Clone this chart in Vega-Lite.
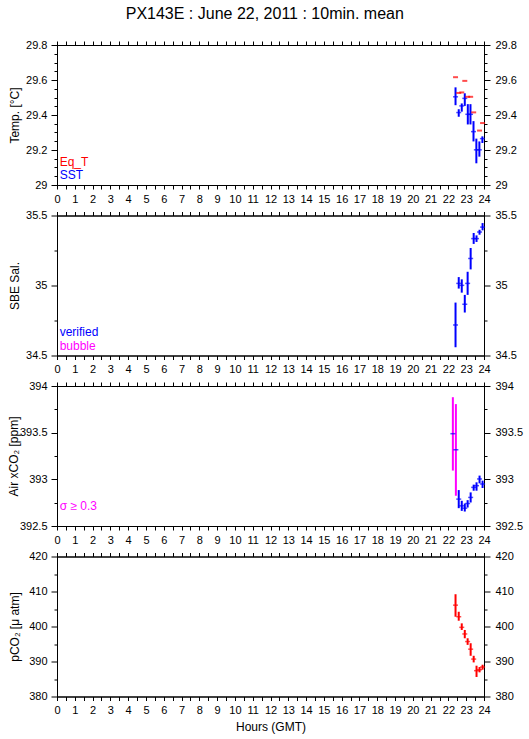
{
  "$schema": "https://vega.github.io/schema/vega-lite/v6.json",
  "padding": {"left": 6, "top": 5, "right": 5, "bottom": 5},
  "background": "white",
  "title": {"text": "PX143E : June 22, 2011 : 10min. mean", "fontSize": 16, "fontWeight": "normal", "font": "Liberation Sans", "color": "black", "offset": 17, "anchor": "middle"},
  "config": {
    "view": {"stroke": "black", "strokeWidth": 1},
    "axis": {"labelFont": "Liberation Sans", "titleFont": "Liberation Sans", "labelFontSize": 11, "titleFontSize": 12, "labelColor": "black", "titleColor": "black", "tickColor": "black", "domainColor": "black", "grid": false, "titleFontWeight": "normal", "labelFlush": false, "labelOverlap": false, "labelBound": false},
    "text": {"font": "Liberation Sans", "fontSize": 12}
  },
  "datasets": {
    "sst": [
      {"h": 22.4, "v": 29.504, "lo": 29.456, "hi": 29.558},
      {"h": 22.58, "v": 29.414, "lo": 29.39, "hi": 29.433},
      {"h": 22.75, "v": 29.452, "lo": 29.419, "hi": 29.466},
      {"h": 22.92, "v": 29.495, "lo": 29.452, "hi": 29.524},
      {"h": 23.09, "v": 29.404, "lo": 29.346, "hi": 29.462},
      {"h": 23.24, "v": 29.404, "lo": 29.346, "hi": 29.462},
      {"h": 23.41, "v": 29.305, "lo": 29.249, "hi": 29.365},
      {"h": 23.57, "v": 29.201, "lo": 29.124, "hi": 29.265},
      {"h": 23.74, "v": 29.201, "lo": 29.162, "hi": 29.249},
      {"h": 23.91, "v": 29.265, "lo": 29.24, "hi": 29.278}
    ],
    "eqt": [
      {"h": 22.4, "v": 29.616},
      {"h": 22.58, "v": 29.526},
      {"h": 22.75, "v": 29.529},
      {"h": 22.92, "v": 29.595},
      {"h": 23.08, "v": 29.504},
      {"h": 23.25, "v": 29.504},
      {"h": 23.42, "v": 29.415},
      {"h": 23.75, "v": 29.311},
      {"h": 23.92, "v": 29.354}
    ],
    "sal": [
      {"h": 22.4, "v": 34.718, "lo": 34.559, "hi": 34.878},
      {"h": 22.58, "v": 35.015, "lo": 34.978, "hi": 35.06},
      {"h": 22.75, "v": 35.001, "lo": 34.949, "hi": 35.044},
      {"h": 22.92, "v": 34.866, "lo": 34.807, "hi": 34.933},
      {"h": 23.08, "v": 35.015, "lo": 34.933, "hi": 35.098},
      {"h": 23.25, "v": 35.193, "lo": 35.115, "hi": 35.268},
      {"h": 23.42, "v": 35.335, "lo": 35.297, "hi": 35.375},
      {"h": 23.58, "v": 35.335, "lo": 35.311, "hi": 35.358},
      {"h": 23.75, "v": 35.382, "lo": 35.363, "hi": 35.398},
      {"h": 23.92, "v": 35.417, "lo": 35.394, "hi": 35.446}
    ],
    "air": [
      {"h": 22.25, "v": 393.489, "lo": 393.094, "hi": 393.88, "flag": "bubble"},
      {"h": 22.42, "v": 393.317, "lo": 392.824, "hi": 393.806, "flag": "bubble"},
      {"h": 22.58, "v": 392.788, "lo": 392.691, "hi": 392.885, "flag": "verified"},
      {"h": 22.75, "v": 392.716, "lo": 392.662, "hi": 392.77, "flag": "verified"},
      {"h": 22.92, "v": 392.691, "lo": 392.655, "hi": 392.741, "flag": "verified"},
      {"h": 23.08, "v": 392.741, "lo": 392.698, "hi": 392.777, "flag": "verified"},
      {"h": 23.25, "v": 392.806, "lo": 392.752, "hi": 392.86, "flag": "verified"},
      {"h": 23.42, "v": 392.914, "lo": 392.878, "hi": 392.943, "flag": "verified"},
      {"h": 23.58, "v": 392.932, "lo": 392.878, "hi": 392.968, "flag": "verified"},
      {"h": 23.75, "v": 393.004, "lo": 392.957, "hi": 393.04, "flag": "verified"},
      {"h": 23.92, "v": 392.95, "lo": 392.907, "hi": 392.986, "flag": "verified"}
    ],
    "pco2": [
      {"h": 22.4, "v": 406.1, "lo": 402.79, "hi": 409.22},
      {"h": 22.58, "v": 402.79, "lo": 401.65, "hi": 404.21},
      {"h": 22.75, "v": 399.76, "lo": 399.01, "hi": 400.9},
      {"h": 22.92, "v": 397.87, "lo": 396.64, "hi": 399.01},
      {"h": 23.08, "v": 395.7, "lo": 394.75, "hi": 396.64},
      {"h": 23.25, "v": 393.52, "lo": 391.63, "hi": 395.22},
      {"h": 23.42, "v": 390.69, "lo": 389.74, "hi": 391.63},
      {"h": 23.58, "v": 387.38, "lo": 385.58, "hi": 388.8},
      {"h": 23.75, "v": 387.66, "lo": 386.9, "hi": 388.42},
      {"h": 23.92, "v": 388.42, "lo": 387.66, "hi": 389.08}
    ]
  },
  "vconcat": [
    {
      "width": 427, "height": 140,
      "layer": [
        {
          "data": {"name": "sst"},
          "mark": {"type": "rule", "color": "#0000ff", "strokeWidth": 2},
          "encoding": {
            "x": {"field": "h", "type": "quantitative", "scale": {"domain": [0, 24], "nice": false},
              "axis": {"orient": "bottom", "values": [0,0.5,1,1.5,2,2.5,3,3.5,4,4.5,5,5.5,6,6.5,7,7.5,8,8.5,9,9.5,10,10.5,11,11.5,12,12.5,13,13.5,14,14.5,15,15.5,16,16.5,17,17.5,18,18.5,19,19.5,20,20.5,21,21.5,22,22.5,23,23.5,24], "labelExpr": "datum.value % 1 === 0 ? format(datum.value, 'd') : ''", "tickSize": 4, "labelPadding": 4, "title": null}},
            "y": {"field": "lo", "type": "quantitative", "scale": {"domain": [29, 29.8], "nice": false, "zero": false},
              "axis": {"orient": "left", "values": [29,29.05,29.1,29.15,29.2,29.25,29.3,29.35,29.4,29.45,29.5,29.55,29.6,29.65,29.7,29.75,29.8], "labelExpr": "abs(datum.value*5 - round(datum.value*5)) < 0.000001 ? format(datum.value, '~g') : ''", "tickSize": {"condition": {"test": "abs(datum.value*5 - round(datum.value*5)) < 0.000001", "value": 6}, "value": 3}, "labelPadding": 4, "title": "Temp. [°C]", "titleX": -43, "titleY": 70, "titleBaseline": "middle", "titleAlign": "center"}},
            "y2": {"field": "hi"}
          }
        },
        {
          "data": {"name": "sst"},
          "mark": {"type": "tick", "orient": "horizontal", "color": "#0000ff", "size": 5, "thickness": 1.5},
          "encoding": {
            "x": {"field": "h", "type": "quantitative", "scale": {"domain": [0, 24], "nice": false},
              "axis": {"orient": "top", "values": [0,0.5,1,1.5,2,2.5,3,3.5,4,4.5,5,5.5,6,6.5,7,7.5,8,8.5,9,9.5,10,10.5,11,11.5,12,12.5,13,13.5,14,14.5,15,15.5,16,16.5,17,17.5,18,18.5,19,19.5,20,20.5,21,21.5,22,22.5,23,23.5,24], "labels": false, "tickSize": 4, "title": null}},
            "y": {"field": "v", "type": "quantitative", "scale": {"domain": [29, 29.8], "nice": false, "zero": false},
              "axis": {"orient": "right", "values": [29,29.05,29.1,29.15,29.2,29.25,29.3,29.35,29.4,29.45,29.5,29.55,29.6,29.65,29.7,29.75,29.8], "labelExpr": "abs(datum.value*5 - round(datum.value*5)) < 0.000001 ? format(datum.value, '~g') : ''", "tickSize": {"condition": {"test": "abs(datum.value*5 - round(datum.value*5)) < 0.000001", "value": 6}, "value": 3}, "labelPadding": 5, "title": null}}
          }
        },
        {
          "data": {"name": "eqt"},
          "mark": {"type": "tick", "orient": "horizontal", "color": "#ff0000", "size": 5, "thickness": 2},
          "encoding": {
            "x": {"field": "h", "type": "quantitative", "scale": {"domain": [0, 24], "nice": false}, "axis": null},
            "y": {"field": "v", "type": "quantitative", "scale": {"domain": [29, 29.8], "nice": false, "zero": false}, "axis": null}
          }
        },
        {
          "data": {"values": [{"h": 0.15, "v": 29.133, "t": "Eq_T", "c": "#ff0000"}, {"h": 0.15, "v": 29.058, "t": "SST", "c": "#0000ff"}]},
          "mark": {"type": "text", "align": "left", "baseline": "middle", "fontSize": 12},
          "encoding": {
            "x": {"field": "h", "type": "quantitative", "scale": {"domain": [0, 24], "nice": false}, "axis": null},
            "y": {"field": "v", "type": "quantitative", "scale": {"domain": [29, 29.8], "nice": false, "zero": false}, "axis": null},
            "text": {"field": "t"},
            "color": {"field": "c", "type": "nominal", "scale": null, "legend": null}
          }
        }
      ],
      "resolve": {"axis": {"x": "independent", "y": "independent"}}
    },
    {
      "width": 427, "height": 140,
      "layer": [
        {
          "data": {"name": "sal"},
          "mark": {"type": "rule", "color": "#0000ff", "strokeWidth": 2},
          "encoding": {
            "x": {"field": "h", "type": "quantitative", "scale": {"domain": [0, 24], "nice": false},
              "axis": {"orient": "bottom", "values": [0,0.5,1,1.5,2,2.5,3,3.5,4,4.5,5,5.5,6,6.5,7,7.5,8,8.5,9,9.5,10,10.5,11,11.5,12,12.5,13,13.5,14,14.5,15,15.5,16,16.5,17,17.5,18,18.5,19,19.5,20,20.5,21,21.5,22,22.5,23,23.5,24], "labelExpr": "datum.value % 1 === 0 ? format(datum.value, 'd') : ''", "tickSize": 4, "labelPadding": 4, "title": null}},
            "y": {"field": "lo", "type": "quantitative", "scale": {"domain": [34.5, 35.5], "nice": false, "zero": false},
              "axis": {"orient": "left", "values": [34.5,34.75,35,35.25,35.5], "labelExpr": "abs(datum.value*2 - round(datum.value*2)) < 0.000001 ? format(datum.value, '~g') : ''", "tickSize": {"condition": {"test": "abs(datum.value*2 - round(datum.value*2)) < 0.000001", "value": 6}, "value": 3}, "labelPadding": 4, "title": "SBE Sal.", "titleX": -43, "titleY": 70, "titleBaseline": "middle", "titleAlign": "center"}},
            "y2": {"field": "hi"}
          }
        },
        {
          "data": {"name": "sal"},
          "mark": {"type": "tick", "orient": "horizontal", "color": "#0000ff", "size": 5, "thickness": 1.5},
          "encoding": {
            "x": {"field": "h", "type": "quantitative", "scale": {"domain": [0, 24], "nice": false},
              "axis": {"orient": "top", "values": [0,0.5,1,1.5,2,2.5,3,3.5,4,4.5,5,5.5,6,6.5,7,7.5,8,8.5,9,9.5,10,10.5,11,11.5,12,12.5,13,13.5,14,14.5,15,15.5,16,16.5,17,17.5,18,18.5,19,19.5,20,20.5,21,21.5,22,22.5,23,23.5,24], "labels": false, "tickSize": 4, "title": null}},
            "y": {"field": "v", "type": "quantitative", "scale": {"domain": [34.5, 35.5], "nice": false, "zero": false},
              "axis": {"orient": "right", "values": [34.5,34.75,35,35.25,35.5], "labelExpr": "abs(datum.value*2 - round(datum.value*2)) < 0.000001 ? format(datum.value, '~g') : ''", "tickSize": {"condition": {"test": "abs(datum.value*2 - round(datum.value*2)) < 0.000001", "value": 6}, "value": 3}, "labelPadding": 5, "title": null}}
          }
        },
        {
          "data": {"values": [{"h": 0.15, "v": 34.67, "t": "verified", "c": "#0000ff"}, {"h": 0.15, "v": 34.571, "t": "bubble", "c": "#ff00ff"}]},
          "mark": {"type": "text", "align": "left", "baseline": "middle", "fontSize": 12},
          "encoding": {
            "x": {"field": "h", "type": "quantitative", "scale": {"domain": [0, 24], "nice": false}, "axis": null},
            "y": {"field": "v", "type": "quantitative", "scale": {"domain": [34.5, 35.5], "nice": false, "zero": false}, "axis": null},
            "text": {"field": "t"},
            "color": {"field": "c", "type": "nominal", "scale": null, "legend": null}
          }
        }
      ],
      "resolve": {"axis": {"x": "independent", "y": "independent"}}
    },
    {
      "width": 427, "height": 140,
      "layer": [
        {
          "data": {"name": "air"},
          "mark": {"type": "rule", "strokeWidth": 2},
          "encoding": {
            "x": {"field": "h", "type": "quantitative", "scale": {"domain": [0, 24], "nice": false},
              "axis": {"orient": "bottom", "values": [0,0.5,1,1.5,2,2.5,3,3.5,4,4.5,5,5.5,6,6.5,7,7.5,8,8.5,9,9.5,10,10.5,11,11.5,12,12.5,13,13.5,14,14.5,15,15.5,16,16.5,17,17.5,18,18.5,19,19.5,20,20.5,21,21.5,22,22.5,23,23.5,24], "labelExpr": "datum.value % 1 === 0 ? format(datum.value, 'd') : ''", "tickSize": 4, "labelPadding": 4, "title": null}},
            "y": {"field": "lo", "type": "quantitative", "scale": {"domain": [392.5, 394], "nice": false, "zero": false},
              "axis": {"orient": "left", "values": [392.5,392.75,393,393.25,393.5,393.75,394], "labelExpr": "abs(datum.value*2 - round(datum.value*2)) < 0.000001 ? format(datum.value, '~g') : ''", "tickSize": {"condition": {"test": "abs(datum.value*2 - round(datum.value*2)) < 0.000001", "value": 6}, "value": 3}, "labelPadding": 4, "title": "Air xCO₂ [ppm]", "titleX": -44, "titleY": 70, "titleBaseline": "middle", "titleAlign": "center"}},
            "y2": {"field": "hi"},
            "color": {"field": "flag", "type": "nominal", "scale": {"domain": ["verified", "bubble"], "range": ["#0000ff", "#ff00ff"]}, "legend": null}
          }
        },
        {
          "data": {"name": "air"},
          "mark": {"type": "tick", "orient": "horizontal", "color": "#0000ff", "size": 5, "thickness": 1.5},
          "encoding": {
            "x": {"field": "h", "type": "quantitative", "scale": {"domain": [0, 24], "nice": false},
              "axis": {"orient": "top", "values": [0,0.5,1,1.5,2,2.5,3,3.5,4,4.5,5,5.5,6,6.5,7,7.5,8,8.5,9,9.5,10,10.5,11,11.5,12,12.5,13,13.5,14,14.5,15,15.5,16,16.5,17,17.5,18,18.5,19,19.5,20,20.5,21,21.5,22,22.5,23,23.5,24], "labels": false, "tickSize": 4, "title": null}},
            "y": {"field": "v", "type": "quantitative", "scale": {"domain": [392.5, 394], "nice": false, "zero": false},
              "axis": {"orient": "right", "values": [392.5,392.75,393,393.25,393.5,393.75,394], "labelExpr": "abs(datum.value*2 - round(datum.value*2)) < 0.000001 ? format(datum.value, '~g') : ''", "tickSize": {"condition": {"test": "abs(datum.value*2 - round(datum.value*2)) < 0.000001", "value": 6}, "value": 3}, "labelPadding": 5, "title": null}}
          }
        },
        {
          "data": {"values": [{"h": 0.15, "v": 392.716, "t": "σ ≥ 0.3", "c": "#ff00ff"}]},
          "mark": {"type": "text", "align": "left", "baseline": "middle", "fontSize": 12},
          "encoding": {
            "x": {"field": "h", "type": "quantitative", "scale": {"domain": [0, 24], "nice": false}, "axis": null},
            "y": {"field": "v", "type": "quantitative", "scale": {"domain": [392.5, 394], "nice": false, "zero": false}, "axis": null},
            "text": {"field": "t"},
            "color": {"field": "c", "type": "nominal", "scale": null, "legend": null}
          }
        }
      ],
      "resolve": {"axis": {"x": "independent", "y": "independent"}, "scale": {"color": "independent"}}
    },
    {
      "width": 427, "height": 140,
      "layer": [
        {
          "data": {"name": "pco2"},
          "mark": {"type": "rule", "color": "#ff0000", "strokeWidth": 2},
          "encoding": {
            "x": {"field": "h", "type": "quantitative", "scale": {"domain": [0, 24], "nice": false},
              "axis": {"orient": "bottom", "values": [0,0.5,1,1.5,2,2.5,3,3.5,4,4.5,5,5.5,6,6.5,7,7.5,8,8.5,9,9.5,10,10.5,11,11.5,12,12.5,13,13.5,14,14.5,15,15.5,16,16.5,17,17.5,18,18.5,19,19.5,20,20.5,21,21.5,22,22.5,23,23.5,24], "labelExpr": "datum.value % 1 === 0 ? format(datum.value, 'd') : ''", "tickSize": 4, "labelPadding": 4, "title": "Hours (GMT)", "titlePadding": 6}},
            "y": {"field": "lo", "type": "quantitative", "scale": {"domain": [380, 420], "nice": false, "zero": false},
              "axis": {"orient": "left", "values": [380,385,390,395,400,405,410,415,420], "labelExpr": "datum.value % 10 === 0 ? format(datum.value, 'd') : ''", "tickSize": {"condition": {"test": "datum.value % 10 === 0", "value": 6}, "value": 3}, "labelPadding": 4, "title": "pCO₂ [μ atm]", "titleX": -43, "titleY": 70, "titleBaseline": "middle", "titleAlign": "center"}},
            "y2": {"field": "hi"}
          }
        },
        {
          "data": {"name": "pco2"},
          "mark": {"type": "tick", "orient": "horizontal", "color": "#ff0000", "size": 5, "thickness": 1.5},
          "encoding": {
            "x": {"field": "h", "type": "quantitative", "scale": {"domain": [0, 24], "nice": false},
              "axis": {"orient": "top", "values": [0,0.5,1,1.5,2,2.5,3,3.5,4,4.5,5,5.5,6,6.5,7,7.5,8,8.5,9,9.5,10,10.5,11,11.5,12,12.5,13,13.5,14,14.5,15,15.5,16,16.5,17,17.5,18,18.5,19,19.5,20,20.5,21,21.5,22,22.5,23,23.5,24], "labels": false, "tickSize": 4, "title": null}},
            "y": {"field": "v", "type": "quantitative", "scale": {"domain": [380, 420], "nice": false, "zero": false},
              "axis": {"orient": "right", "values": [380,385,390,395,400,405,410,415,420], "labelExpr": "datum.value % 10 === 0 ? format(datum.value, 'd') : ''", "tickSize": {"condition": {"test": "datum.value % 10 === 0", "value": 6}, "value": 3}, "labelPadding": 5, "title": null}}
          }
        }
      ],
      "resolve": {"axis": {"x": "independent", "y": "independent"}}
    }
  ],
  "spacing": 30.5,
  "bounds": "flush"
}
